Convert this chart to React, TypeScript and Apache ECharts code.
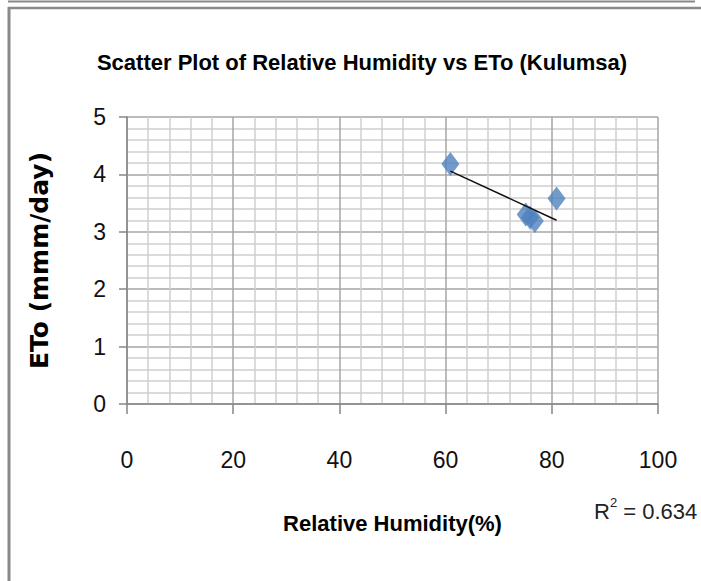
import React, { useEffect, useRef } from "react";
import * as echarts from "echarts";

const chartTitle = "Scatter Plot of Relative Humidity vs ETo (Kulumsa)";
const xAxisTitle = "Relative Humidity(%)";
const yAxisTitle = "ETo (mmm/day)";
const rSquaredLabel = "0.634";

const humidity = [60.9, 75.1, 75.9, 76.8, 80.9];
const eto = [4.18, 3.3, 3.25, 3.19, 3.58];

const xTicks = [0, 20, 40, 60, 80, 100];
const yTicks = [0, 1, 2, 3, 4, 5];

function trendLine(xs: number[], ys: number[]): number[][] {
  const n = xs.length;
  const mx = xs.reduce((a, b) => a + b, 0) / n;
  const my = ys.reduce((a, b) => a + b, 0) / n;
  let sxy = 0;
  let sxx = 0;
  for (let i = 0; i < n; i++) {
    sxy += (xs[i] - mx) * (ys[i] - my);
    sxx += (xs[i] - mx) * (xs[i] - mx);
  }
  const slope = sxy / sxx;
  const b = my - slope * mx;
  const x0 = Math.min(...xs);
  const x1 = Math.max(...xs);
  return [
    [x0, slope * x0 + b],
    [x1, slope * x1 + b],
  ];
}

const FONT = "'Liberation Sans', Arial, sans-serif";

export default function App() {
  const ref = useRef<HTMLDivElement>(null);

  useEffect(() => {
    document.body.style.margin = "0";
    if (!ref.current) return;
    const chart = echarts.init(ref.current, null, { renderer: "svg" });
    const points = humidity.map((h, i) => [h, eto[i]]);
    const option: any = {
      animation: false,
      backgroundColor: "#ffffff",
      title: {
        text: chartTitle,
        left: 357,
        textAlign: "center",
        top: 46,
        textStyle: {
          fontFamily: FONT,
          fontWeight: "bold",
          fontSize: 22,
          color: "#000",
        },
      },
      grid: {
        left: 127,
        right: 43,
        top: 117,
        bottom: 177,
        containLabel: false,
      },
      xAxis: {
        type: "value",
        min: xTicks[0],
        max: xTicks[xTicks.length - 1],
        interval: 20,
        name: xAxisTitle,
        nameLocation: "middle",
        nameGap: 108,
        nameTextStyle: {
          fontFamily: FONT,
          fontWeight: "bold",
          fontSize: 22,
          color: "#000",
        },
        axisLine: { show: true, lineStyle: { color: "#868686", width: 1.5 } },
        axisTick: { show: true, length: 10, lineStyle: { color: "#868686", width: 1.5 } },
        minorTick: { show: false, splitNumber: 5 },
        axisLabel: {
          margin: 44,
          fontFamily: FONT,
          fontSize: 23,
          color: "#111",
        },
        splitLine: { show: true, lineStyle: { color: "#a6a6a6", width: 1.5 } },
        minorSplitLine: { show: true, lineStyle: { color: "#cfcfcf", width: 1.5 } },
      },
      yAxis: {
        type: "value",
        min: yTicks[0],
        max: yTicks[yTicks.length - 1],
        interval: 1,
        name: yAxisTitle,
        nameLocation: "middle",
        nameGap: 75,
        nameRotate: 90,
        nameTextStyle: {
          fontFamily: "'DejaVu Sans', sans-serif",
          fontWeight: "bold",
          fontSize: 25,
          color: "#000",
        },
        axisLine: { show: true, lineStyle: { color: "#868686", width: 1.5 } },
        axisTick: { show: true, length: 8, lineStyle: { color: "#868686", width: 1.5 } },
        minorTick: { show: false, splitNumber: 5 },
        axisLabel: {
          margin: 21,
          fontFamily: FONT,
          fontSize: 23,
          color: "#111",
        },
        splitLine: { show: true, lineStyle: { color: "#a6a6a6", width: 1.5 } },
        minorSplitLine: { show: true, lineStyle: { color: "#cfcfcf", width: 1.5 } },
      },
      graphic: [
        { type: "line", shape: { x1: 8, y1: 1.5, x2: 695, y2: 1.5 }, style: { stroke: "#8a8a8a", lineWidth: 2 } },
        { type: "line", shape: { x1: 8, y1: 8, x2: 701, y2: 8 }, style: { stroke: "#8a8a8a", lineWidth: 2.5 } },
        { type: "line", shape: { x1: 9, y1: 7, x2: 9, y2: 581 }, style: { stroke: "#8a8a8a", lineWidth: 3 } },
        {
          type: "text",
          left: 594,
          top: 496,
          style: {
            text: "{r|R}{s|2}{r| = " + rSquaredLabel + "}",
            rich: {
              r: { fontFamily: FONT, fontSize: 22, fill: "#222", verticalAlign: "bottom", lineHeight: 26 },
              s: { fontFamily: FONT, fontSize: 13, fill: "#222", verticalAlign: "top", lineHeight: 26, padding: [0, 0, 10, 0] },
            },
          },
        },
      ],
      series: [
        {
          type: "scatter",
          data: points,
          symbol: "diamond",
          symbolSize: [18, 24],
          itemStyle: { color: "#4F81BD" },
          z: 3,
        },
        {
          type: "line",
          data: trendLine(humidity, eto),
          showSymbol: false,
          symbol: "none",
          lineStyle: { color: "#111", width: 1.5 },
          z: 4,
          silent: true,
        },
      ],
    };
    chart.setOption(option);
    return () => chart.dispose();
  }, []);

  return <div ref={ref} style={{ width: 701, height: 581 }} />;
}
